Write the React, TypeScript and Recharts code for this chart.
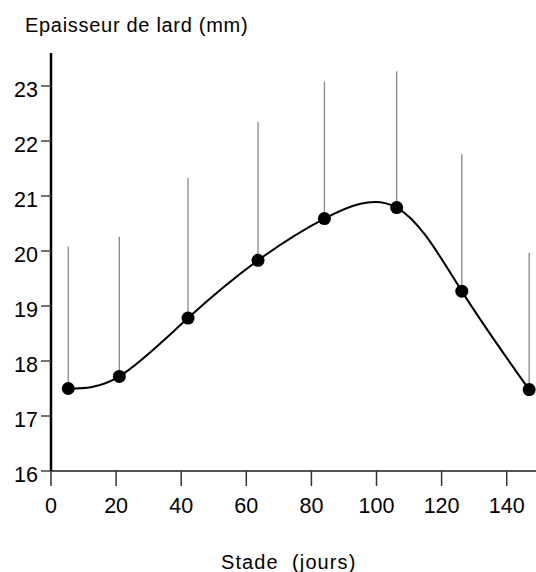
import React from 'react';
import { LineChart, Line, XAxis, YAxis, ErrorBar } from 'recharts';

const days = [5.3, 21.0, 42.1, 63.6, 84.0, 106.2, 126.2, 146.9];
const means = [17.5, 17.72, 18.78, 19.83, 20.59, 20.79, 19.27, 17.48];
const upperBounds = [20.08, 20.26, 21.33, 22.35, 23.08, 23.27, 21.76, 19.97];
const xTicks = [0, 20, 40, 60, 80, 100, 120, 140];
const yTicks = [16, 17, 18, 19, 20, 21, 22, 23];

const data = days.map((d, i) => ({
  day: d,
  mean: means[i],
  err: [0, upperBounds[i] - means[i]],
}));

const FONT = '"Liberation Sans", Arial, sans-serif';

const XTick = (props: any) => {
  const { x, y, payload } = props;
  return (
    <text x={x} y={y + 15} textAnchor="middle" fontFamily={FONT} fontSize={21.5} fill="#000">
      {payload.value}
    </text>
  );
};

const YTick = (props: any) => {
  const { x, y, payload } = props;
  return (
    <text x={x} y={y + 11} textAnchor="end" fontFamily={FONT} fontSize={21.5} fill="#000">
      {payload.value}
    </text>
  );
};

export default function App() {
  return (
    <div style={{ position: 'absolute', left: 0, top: 0, width: 536, height: 572, background: '#fff' }}>
      <LineChart width={536} height={572} data={data} margin={{ top: 53, right: 0, left: 0, bottom: 0 }}>
        <XAxis
          dataKey="day"
          type="number"
          domain={[0, 149]}
          ticks={xTicks}
          height={101}
          tickSize={15}
          tickMargin={12}
          axisLine={{ stroke: '#555', strokeWidth: 2 }}
          tickLine={{ stroke: '#333', strokeWidth: 1.5 }}
          tick={<XTick />}
          allowDataOverflow
        />
        <YAxis
          type="number"
          domain={[16, 23.6]}
          ticks={yTicks}
          width={51}
          tickSize={10}
          tickMargin={3}
          axisLine={{ stroke: '#000', strokeWidth: 2.5 }}
          tickLine={{ stroke: '#444', strokeWidth: 1.5 }}
          tick={<YTick />}
          allowDataOverflow
        />
        <Line
          dataKey="mean"
          type="natural"
          stroke="#000"
          strokeWidth={2}
          dot={{ r: 6.5, fill: '#000', stroke: '#000', strokeWidth: 0 }}
          isAnimationActive={false}
        >
          <ErrorBar dataKey="err" direction="y" width={0} stroke="#888" strokeWidth={1.3} />
        </Line>
      </LineChart>
      <div
        style={{
          position: 'absolute', left: 25, top: 15, fontFamily: FONT, fontSize: 20,
          lineHeight: '20px', whiteSpace: 'pre', letterSpacing: 0.7, color: '#000',
        }}
      >
        Epaisseur de lard (mm)
      </div>
      <div
        style={{
          position: 'absolute', left: 221, top: 552, fontFamily: FONT, fontSize: 20,
          lineHeight: '20px', whiteSpace: 'pre', letterSpacing: 1.1, color: '#000',
        }}
      >
        Stade  (jours)
      </div>
    </div>
  );
}
